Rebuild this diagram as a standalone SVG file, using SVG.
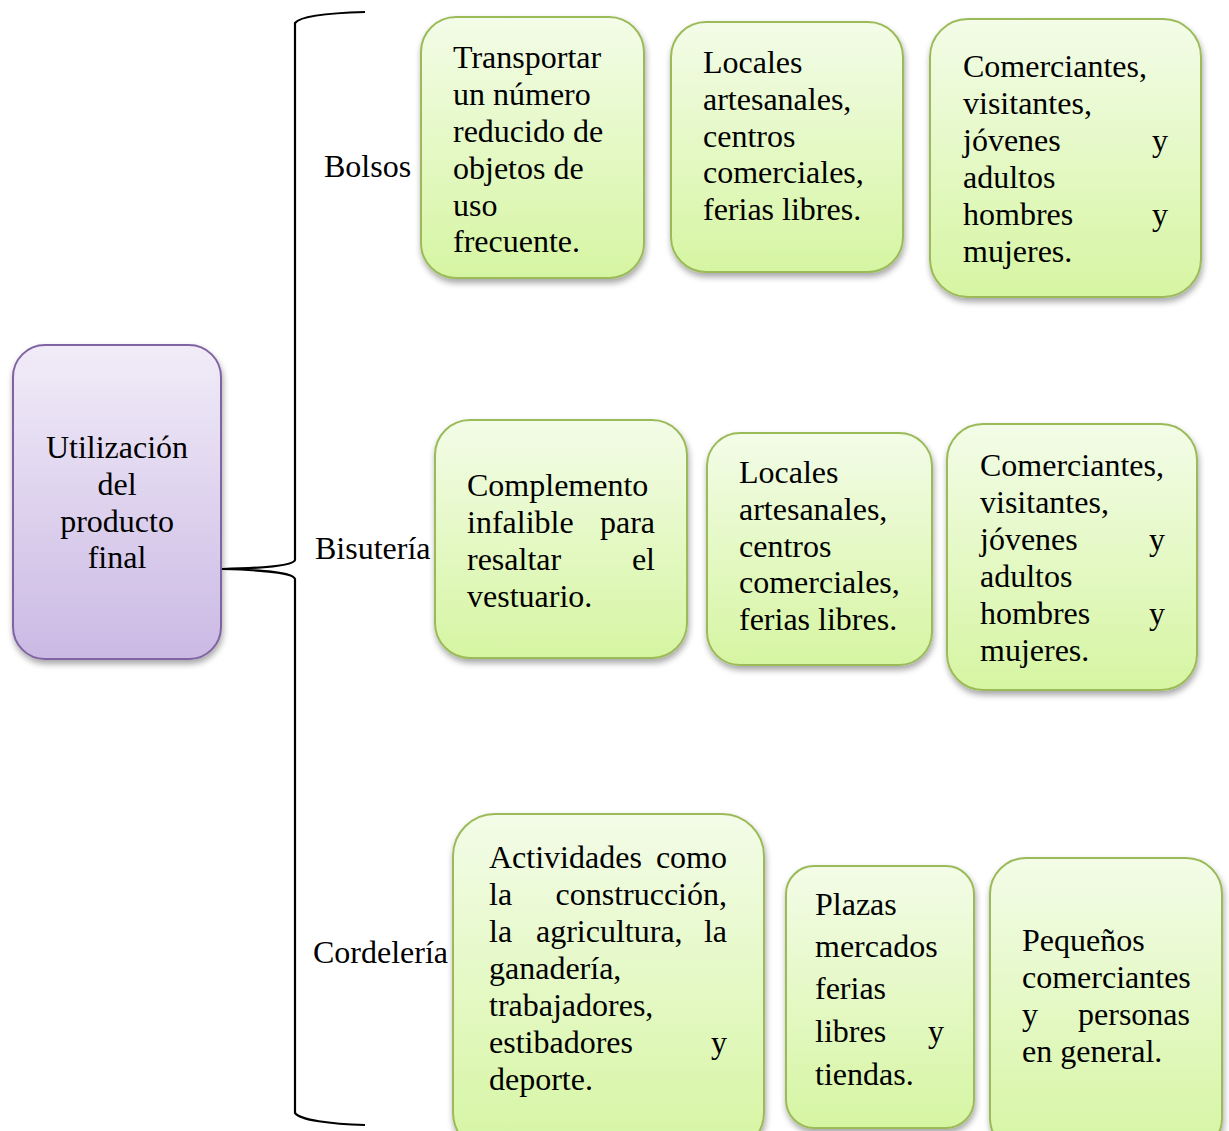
<svg xmlns="http://www.w3.org/2000/svg" width="1229" height="1131" viewBox="0 0 1229 1131">
  <defs>
    <linearGradient id="gGreen" x1="0" y1="0" x2="0" y2="1">
      <stop offset="0" stop-color="#F3FCE8"/>
      <stop offset="1" stop-color="#D6F5A2"/>
    </linearGradient>
    <linearGradient id="gPurple" x1="0" y1="0" x2="0" y2="1">
      <stop offset="0" stop-color="#F1ECF8"/>
      <stop offset="1" stop-color="#CBB9E4"/>
    </linearGradient>
    <filter id="shadow" x="-10%" y="-10%" width="120%" height="125%">
      <feDropShadow dx="1" dy="4" stdDeviation="3" flood-color="#000" flood-opacity="0.35"/>
    </filter>
  </defs>
  <style>
    .box { fill: url(#gGreen); stroke: #9BBB59; stroke-width: 2; filter: url(#shadow); }
    .root { fill: url(#gPurple); stroke: #8064A2; stroke-width: 2; filter: url(#shadow); }
    text { font-family: "Liberation Serif", "Times New Roman", serif; font-size: 32px; fill: #000; }
    .mid { text-anchor: middle; }
    .end { text-anchor: end; }
    .brace { fill: none; stroke: #000; stroke-width: 2.2; }
  </style>

  <rect width="1229" height="1131" fill="#fff"/>

  <!-- brace joining the root to the three categories -->
  <g id="connectors">
    <path class="brace" d="M365,12 C330,13 300,16 295,23 L295,560 C293,566 262,568 222,569 C262,570 293,572 295,579 L295,1113 C300,1120 330,1124 365,1125"/>
  </g>

  <!-- root -->
  <g id="root">
    <rect class="root" x="13" y="345" width="208" height="314" rx="32"/>
    <text class="mid" x="117" y="458">Utilización</text>
    <text class="mid" x="117" y="495">del</text>
    <text class="mid" x="117" y="532">producto</text>
    <text class="mid" x="117" y="568">final</text>
  </g>

  <!-- category labels -->
  <g id="cat-bolsos"><text x="324" y="177">Bolsos</text></g>
  <g id="cat-bisuteria"><text x="315" y="559">Bisutería</text></g>
  <g id="cat-cordeleria"><text x="313" y="963">Cordelería</text></g>

  <!-- Bolsos row -->
  <g id="bolsos-uso">
    <rect class="box" x="421" y="17" width="223" height="261" rx="35"/>
    <text x="453" y="68">Transportar</text>
    <text x="453" y="105">un número</text>
    <text x="453" y="142">reducido de</text>
    <text x="453" y="179">objetos de</text>
    <text x="453" y="216">uso</text>
    <text x="453" y="252">frecuente.</text>
  </g>
  <g id="bolsos-lugar">
    <rect class="box" x="671" y="22" width="232" height="250" rx="35"/>
    <text x="703" y="73">Locales</text>
    <text x="703" y="110">artesanales,</text>
    <text x="703" y="147">centros</text>
    <text x="703" y="183">comerciales,</text>
    <text x="703" y="220">ferias libres.</text>
  </g>
  <g id="bolsos-publico">
    <rect class="box" x="930" y="19" width="271" height="278" rx="38"/>
    <text x="963" y="77">Comerciantes,</text>
    <text x="963" y="114">visitantes,</text>
    <text x="963" y="151">jóvenes</text><text class="end" x="1168" y="151">y</text>
    <text x="963" y="188">adultos</text>
    <text x="963" y="225">hombres</text><text class="end" x="1168" y="225">y</text>
    <text x="963" y="262">mujeres.</text>
  </g>

  <!-- Bisutería row -->
  <g id="bisuteria-uso">
    <rect class="box" x="435" y="420" width="252" height="238" rx="35"/>
    <text x="467" y="496">Complemento</text>
    <text x="467" y="533">infalible</text><text class="end" x="655" y="533">para</text>
    <text x="467" y="570">resaltar</text><text class="end" x="655" y="570">el</text>
    <text x="467" y="607">vestuario.</text>
  </g>
  <g id="bisuteria-lugar">
    <rect class="box" x="707" y="433" width="225" height="232" rx="33"/>
    <text x="739" y="483">Locales</text>
    <text x="739" y="520">artesanales,</text>
    <text x="739" y="557">centros</text>
    <text x="739" y="593">comerciales,</text>
    <text x="739" y="630">ferias libres.</text>
  </g>
  <g id="bisuteria-publico">
    <rect class="box" x="947" y="424" width="250" height="266" rx="36"/>
    <text x="980" y="476">Comerciantes,</text>
    <text x="980" y="513">visitantes,</text>
    <text x="980" y="550">jóvenes</text><text class="end" x="1165" y="550">y</text>
    <text x="980" y="587">adultos</text>
    <text x="980" y="624">hombres</text><text class="end" x="1165" y="624">y</text>
    <text x="980" y="661">mujeres.</text>
  </g>

  <!-- Cordelería row -->
  <g id="cordeleria-uso">
    <rect class="box" x="453" y="814" width="311" height="340" rx="42"/>
    <text x="489" y="868">Actividades</text><text class="end" x="727" y="868">como</text>
    <text x="489" y="905">la</text><text class="end" x="727" y="905">construcción,</text>
    <text x="489" y="942">la</text><text x="536" y="942">agricultura,</text><text class="end" x="727" y="942">la</text>
    <text x="489" y="979">ganadería,</text>
    <text x="489" y="1016">trabajadores,</text>
    <text x="489" y="1053">estibadores</text><text class="end" x="727" y="1053">y</text>
    <text x="489" y="1090">deporte.</text>
  </g>
  <g id="cordeleria-lugar">
    <rect class="box" x="786" y="866" width="188" height="262" rx="28"/>
    <text x="815" y="915">Plazas</text>
    <text x="815" y="957">mercados</text>
    <text x="815" y="999">ferias</text>
    <text x="815" y="1042">libres</text><text class="end" x="944" y="1042">y</text>
    <text x="815" y="1085">tiendas.</text>
  </g>
  <g id="cordeleria-publico">
    <rect class="box" x="990" y="858" width="232" height="296" rx="36"/>
    <text x="1022" y="951">Pequeños</text>
    <text x="1022" y="988">comerciantes</text>
    <text x="1022" y="1025">y</text><text class="end" x="1190" y="1025">personas</text>
    <text x="1022" y="1062">en general.</text>
  </g>
</svg>
